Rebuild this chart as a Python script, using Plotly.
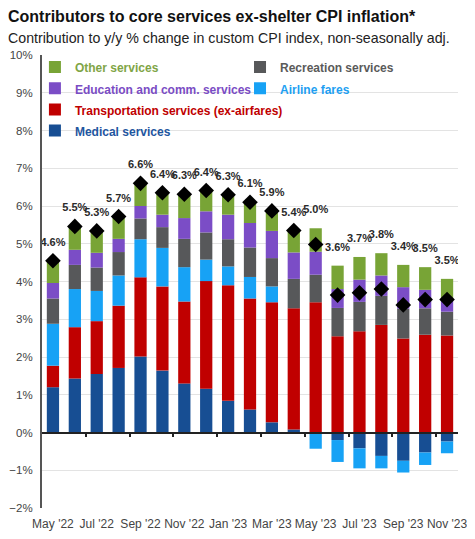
import plotly.graph_objects as go

months = ["May '22", "Jun '22", "Jul '22", "Aug '22", "Sep '22", "Oct '22", "Nov '22", "Dec '22",
          "Jan '23", "Feb '23", "Mar '23", "Apr '23", "May '23", "Jun '23", "Jul '23", "Aug '23",
          "Sep '23", "Oct '23", "Nov '23"]

medical = [1.20, 1.43, 1.55, 1.71, 2.01, 1.64, 1.30, 1.16, 0.84, 0.61, 0.27, 0.08, 0.00,
           -0.20, -0.42, -0.62, -0.75, -0.53, -0.24]
transportation = [0.57, 1.36, 1.40, 1.65, 2.10, 2.23, 2.17, 2.85, 3.06, 2.94, 3.18, 3.21, 3.45,
                  2.55, 2.68, 2.85, 2.49, 2.59, 2.57]
airline = [1.11, 1.01, 0.80, 0.80, 1.01, 1.02, 0.91, 0.57, 0.50, 0.57, 0.42, 0.00, -0.43,
           -0.58, -0.53, -0.33, -0.31, -0.33, -0.31]
recreation = [0.67, 0.64, 0.62, 0.62, 0.55, 0.55, 0.75, 0.72, 0.72, 0.78, 0.75, 0.78, 0.73,
              0.75, 0.78, 0.77, 0.79, 0.70, 0.63]
education = [0.41, 0.40, 0.39, 0.35, 0.33, 0.33, 0.55, 0.56, 0.65, 0.65, 0.72, 0.70, 0.61,
             0.50, 0.59, 0.54, 0.57, 0.49, 0.32]
other = [0.59, 0.62, 0.58, 0.59, 0.60, 0.58, 0.63, 0.55, 0.53, 0.55, 0.53, 0.58, 0.62,
         0.62, 0.60, 0.59, 0.59, 0.60, 0.55]
total_labels = ["4.6%", "5.5%", "5.3%", "5.7%", "6.6%", "6.4%", "6.3%", "6.4%", "6.3%", "6.1%",
                "5.9%", "5.4%", "5.0%", "3.6%", "3.7%", "3.8%", "3.4%", "3.5%", "3.5%"]
tick_months = ["May '22", "Jul '22", "Sep '22", "Nov '22", "Jan '23", "Mar '23", "May '23",
               "Jul '23", "Sep '23", "Nov '23"]

series = [
    ("Medical services", medical, "#174E93", "#1F56A0", "legend"),
    ("Transportation services (ex-airfares)", transportation, "#C00000", "#C00000", "legend"),
    ("Airline fares", airline, "#17A2F5", "#1E9FF2", "legend2"),
    ("Recreation services", recreation, "#57585A", "#5A5A5A", "legend2"),
    ("Education and comm. services", education, "#7B4DC6", "#7A4CC4", "legend"),
    ("Other services", other, "#78A436", "#7FA546", "legend"),
]
legend_rank = {"Other services": 1, "Education and comm. services": 2,
               "Transportation services (ex-airfares)": 3, "Medical services": 4,
               "Recreation services": 1, "Airline fares": 2}

fig = go.Figure()
for name, vals, col, tcol, lg in series:
    fig.add_trace(go.Bar(
        x=months, y=vals, marker=dict(color=col, line=dict(width=0)),
        name=f"<span style='color:{tcol};font-size:12px'><b>{name}</b></span>",
        legend=lg, legendrank=legend_rank[name],
    ))

comps = list(zip(medical, transportation, airline, recreation, education, other))
totals = [sum(v) for v in comps]
pos_top = [sum(max(x, 0) for x in v) for v in comps]

fig.add_trace(go.Scatter(
    x=months, y=totals, mode="markers",
    marker=dict(symbol="diamond", size=12, color="black"),
    showlegend=False, hoverinfo="skip"))
fig.add_trace(go.Scatter(
    x=months, y=pos_top, mode="markers+text", text=[f"<b>{t}</b>" for t in total_labels],
    textposition="top center",
    marker=dict(size=18, opacity=0),
    textfont=dict(size=11, color="#2a2a2a", family="Liberation Sans"),
    showlegend=False, hoverinfo="skip"))

# zero line with tick marks between month pairs
fig.add_trace(go.Scatter(x=[None], y=[None], xaxis="x2", showlegend=False, hoverinfo="skip"))

fig.update_layout(
    width=467, height=531,
    margin=dict(l=34, r=17, t=47, b=31, autoexpand=False),
    paper_bgcolor="white", plot_bgcolor="white",
    barmode="relative", bargap=0.44,
    font=dict(family="Liberation Sans", color="#333"),
    annotations=[
        dict(text="<b>Contributors to core services ex-shelter CPI inflation*</b>",
             xref="paper", yref="paper", x=-0.086, y=1.086, xanchor="left", yanchor="middle",
             showarrow=False, font=dict(size=16, color="#111", family="Liberation Sans")),
        dict(text="Contribution to y/y % change in custom CPI index, non-seasonally adj.",
             xref="paper", yref="paper", x=-0.086, y=1.0375, xanchor="left", yanchor="middle",
             showarrow=False, font=dict(size=14.2, color="#222", family="Liberation Sans")),
    ],
    yaxis=dict(range=[-2, 10], dtick=1, ticksuffix="%", showgrid=True, gridcolor="#E3E3E3",
               gridwidth=1, zeroline=False, showline=True, linecolor="#555", linewidth=2,
               ticks="", ticklabelstandoff=5, tickfont=dict(size=11.5, color="#444"),
               fixedrange=True, automargin=False),
    xaxis=dict(type="category", range=[-0.5, 18.5], tickvals=tick_months, ticktext=tick_months,
               showgrid=False, zeroline=False, showline=False, ticks="",
               ticklabelstandoff=7, automargin=False,
               tickfont=dict(size=12, color="#444"), tickangle=0),
    xaxis2=dict(overlaying="x", anchor="free", position=1/6, range=[-0.5, 18.5],
                tickvals=[1.5, 3.5, 5.5, 7.5, 9.5, 11.5, 13.5, 15.5, 17.5],
                ticks="outside", ticklen=4, tickwidth=1.5, tickcolor="#222",
                showticklabels=False, showgrid=False, zeroline=False, automargin=False,
                showline=True, linecolor="#222", linewidth=1.5),
    legend=dict(x=-0.017, y=1.008, xanchor="left", yanchor="top", bgcolor="rgba(0,0,0,0)",
                font=dict(size=14, family="Liberation Sans"), tracegroupgap=0,
                itemwidth=30, traceorder="normal"),
    legend2=dict(x=0.476, y=1.008, xanchor="left", yanchor="top", bgcolor="rgba(0,0,0,0)",
                 font=dict(size=14, family="Liberation Sans"), tracegroupgap=0,
                 itemwidth=30, traceorder="normal"),
    showlegend=True,
)

fig.write_html("out.html")
